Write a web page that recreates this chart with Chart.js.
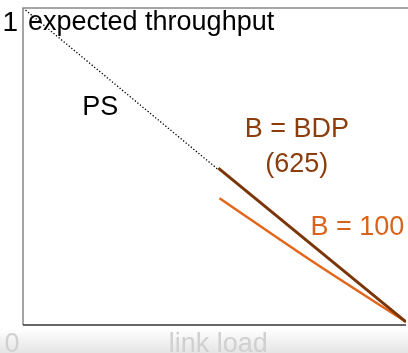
<!DOCTYPE html>
<html>
<head>
<meta charset="utf-8">
<script src="https://cdn.jsdelivr.net/npm/chart.js@4"></script>
<style>
  html, body { margin: 0; padding: 0; background: #fff; }
  #wrap { width: 408px; height: 353px; }
</style>
</head>
<body>
<div id="wrap"><canvas id="c"></canvas></div>
<script>
// link load (x) vs expected throughput (y)
const psLoad = [0, 0.51];
const psThroughput = [1, 0.49];

const bdpLoad = [0.51, 1];
const bdpThroughput = [0.495, 0.01];

const b100Load = [0.513, 0.76, 1];
const b100Throughput = [0.40, 0.197, 0.01];

const toPoints = (xs, ys) => xs.map((x, i) => ({ x: x, y: ys[i] }));

// draws frame, axis words and the in-plot labels
const decor = {
  id: 'decor',
  beforeDraw(chart) {
    const ctx = chart.ctx;
    const a = chart.chartArea;
    ctx.save();
    // faded strip under the plot
    const g = ctx.createLinearGradient(0, a.bottom + 4, 0, chart.height);
    g.addColorStop(0, '#ffffff');
    g.addColorStop(1, '#e4e4e4');
    ctx.fillStyle = g;
    ctx.fillRect(0, a.bottom + 4, chart.width, chart.height - a.bottom - 4);
    ctx.restore();
  },
  afterDraw(chart) {
    const ctx = chart.ctx;
    const a = chart.chartArea;
    const xs = chart.scales.x, ys = chart.scales.y;
    ctx.save();
    ctx.lineWidth = 1.5;
    ctx.strokeStyle = '#888';
    ctx.beginPath();
    ctx.moveTo(a.left, a.bottom);
    ctx.lineTo(a.left, a.top);
    ctx.lineTo(a.right + 2, a.top);
    ctx.stroke();
    ctx.strokeStyle = '#333';
    ctx.beginPath();
    ctx.moveTo(a.left, a.bottom);
    ctx.lineTo(a.right, a.bottom);
    ctx.stroke();

    ctx.textBaseline = 'middle';
    ctx.font = '27px "Liberation Sans", Arial, sans-serif';
    ctx.fillStyle = '#000';
    ctx.textAlign = 'right';
    ctx.font = '28px "Liberation Sans", Arial, sans-serif';
    ctx.fillText('1', a.left - 5, ys.getPixelForValue(0.952));
    ctx.font = '27px "Liberation Sans", Arial, sans-serif';
    ctx.textAlign = 'left';
    ctx.fillText('expected throughput', a.left + 5, ys.getPixelForValue(0.954));

    ctx.textAlign = 'center';
    ctx.fillText('PS', xs.getPixelForValue(0.202), ys.getPixelForValue(0.687));

    ctx.fillStyle = '#8a3e0e';
    ctx.fillText('B = BDP', xs.getPixelForValue(0.715), ys.getPixelForValue(0.615));
    ctx.fillText('(625)', xs.getPixelForValue(0.715), ys.getPixelForValue(0.505));
    ctx.fillStyle = '#d9631a';
    ctx.fillText('B = 100', xs.getPixelForValue(0.873), ys.getPixelForValue(0.309));

    ctx.fillStyle = '#d0d0d0';
    ctx.fillText('0', 12, a.bottom + 20);
    ctx.fillText('link load', xs.getPixelForValue(0.51), a.bottom + 20);
    ctx.textAlign = 'left';
    ctx.fillText('1', a.right, a.bottom + 20);
    ctx.restore();
  }
};

new Chart(document.getElementById('c'), {
  type: 'scatter',
  data: {
    datasets: [
      {
        label: 'PS',
        data: toPoints(psLoad, psThroughput),
        showLine: true,
        borderColor: '#000',
        borderWidth: 1.3,
        borderDash: [1.3, 2],
        pointRadius: 0
      },
      {
        label: 'B = BDP (625)',
        data: toPoints(bdpLoad, bdpThroughput),
        showLine: true,
        borderColor: '#7a3608',
        borderWidth: 3,
        pointRadius: 0
      },
      {
        label: 'B = 100',
        data: toPoints(b100Load, b100Throughput),
        showLine: true,
        cubicInterpolationMode: 'monotone',
        borderColor: '#e3661a',
        borderWidth: 2.5,
        pointRadius: 0
      }
    ]
  },
  options: {
    responsive: true,
    maintainAspectRatio: false,
    animation: false,
    layout: { padding: { left: 23, top: 8, right: 2, bottom: 28 } },
    plugins: { legend: { display: false }, tooltip: { enabled: false } },
    scales: {
      x: { type: 'linear', min: 0, max: 1, display: false },
      y: { type: 'linear', min: 0, max: 1, display: false }
    }
  },
  plugins: [decor]
});
</script>
</body>
</html>
